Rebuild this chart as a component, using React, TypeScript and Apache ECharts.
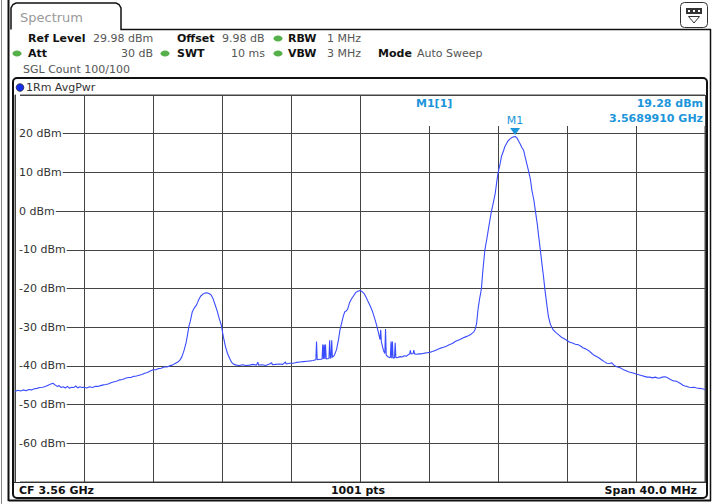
import React, { useEffect, useRef } from "react";
import * as echarts from "echarts";

// ---- Sweep settings ----
const SWEEP_POINTS = 1001;
const CENTER_GHZ = 3.56;
const SPAN_MHZ = 40;
const LEVEL_MIN = -70;
const LEVEL_MAX = 30;
const LEVEL_STEP = 10;

// ---- Trace 1 (AvgPwr): sweep point index and level in dBm ----
const traceIndex = [
  0, 4, 8, 12, 16, 20, 24, 28, 32, 36, 40, 44, 48, 52, 55, 58, 61, 64, 67, 70, 73, 76, 79, 82, 85, 88, 91, 94, 97, 100,
  104, 108, 112, 116, 120, 124, 128, 132, 136, 140, 144, 148, 152, 156, 160, 164, 168, 172, 176, 180, 184, 188, 192, 196, 200,
  204, 208, 212, 216, 220, 224, 228, 232, 236, 239, 242, 245, 248, 250, 252, 254, 257, 260, 263, 266, 269, 272, 275, 278, 281,
  284, 287, 290, 293, 296, 299, 302, 305, 308, 311, 314, 317, 321, 325, 330, 335, 340, 345, 350, 352, 353, 358, 363, 368, 372,
  373, 378, 383, 388, 392, 393, 398, 403, 408, 413, 418, 423, 428, 432, 436, 437, 438, 442, 445, 446, 447, 448, 449, 450, 451,
  455, 456, 457, 458, 459, 460, 463, 466, 469, 471, 474, 476, 478, 480, 482, 485, 488, 491, 494, 497, 500, 503, 506, 509, 512,
  515, 518, 521, 524, 527, 529, 530, 531, 534, 536, 537, 538, 541, 544, 545, 546, 547, 548, 550, 551, 552, 555, 558, 561, 564,
  567, 570, 572, 573, 574, 577, 578, 579, 582, 585, 588, 591, 594, 597, 601, 605, 609, 613, 617, 621, 625, 630, 634, 638, 642,
  645, 649, 653, 657, 661, 665, 667, 669, 671, 673, 676, 678, 681, 684, 686, 688, 690, 693, 696, 698, 700, 703, 705, 708, 710,
  714, 717, 720, 723, 725, 727, 729, 732, 735, 737, 740, 744, 747, 749, 752, 754, 757, 759, 761, 763, 766, 768, 771, 773, 776,
  780, 784, 788, 792, 796, 799, 804, 808, 812, 816, 819, 823, 827, 831, 835, 838, 842, 846, 850, 854, 858, 862, 865, 868, 872,
  877, 881, 885, 889, 893, 897, 900, 904, 908, 912, 916, 920, 924, 928, 932, 935, 938, 941, 944, 947, 950, 953, 956, 959, 962,
  965, 968, 971, 974, 977, 980, 984, 988, 992, 996, 1000,
];
const traceDbm = [
  -46.6, -46.3, -46.5, -46.2, -46.4, -46.1, -46.2, -45.9, -45.8, -45.6, -45.5, -45.3, -45.0, -44.7, -44.5, -44.9, -45.3, -45.1, -45.6, -45.4, -45.7, -45.3, -45.8, -45.5, -45.6, -45.2, -45.7, -45.4, -45.6, -45.5,
  -45.7, -45.4, -45.6, -45.3, -45.3, -45.1, -44.9, -44.8, -44.6, -44.3, -44.1, -43.9, -43.6, -43.5, -43.2, -43.0, -43.0, -42.7, -42.6, -42.4, -42.2, -41.9, -41.7, -41.3, -41.0,
  -41.0, -40.7, -40.6, -40.3, -40.3, -40.0, -39.8, -39.4, -39.0, -38.5, -37.6, -36.0, -34.0, -32.0, -29.8, -28.5, -26.0, -25.0, -24.3, -23.0, -22.0, -21.5, -21.2, -21.1, -21.3,
  -21.6, -22.6, -24.2, -25.8, -27.8, -29.5, -32.5, -35.0, -36.8, -38.0, -39.1, -39.6, -39.8, -39.9, -39.7, -39.9, -39.8, -39.6, -39.8, -39.0, -39.8, -39.7, -39.9, -39.6, -39.2,
  -39.7, -39.6, -39.5, -39.6, -39.0, -39.5, -39.3, -39.3, -39.1, -39.0, -38.9, -38.8, -38.7, -38.6, -38.4, -33.7, -38.4, -38.3, -38.3, -34.5, -38.2, -34.5, -38.2, -34.5, -38.2,
  -38.1, -33.4, -38.0, -37.9, -33.4, -37.8, -37.2, -35.8, -33.0, -30.7, -28.5, -27.0, -26.0, -25.8, -25.4, -23.6, -22.6, -21.8, -21.0, -20.7, -20.5, -20.8, -21.3, -22.3, -23.5,
  -24.6, -25.9, -27.6, -29.4, -31.6, -33.2, -30.7, -33.8, -36.0, -36.8, -30.5, -37.2, -37.7, -37.9, -33.7, -38.0, -33.7, -38.0, -37.9, -34.0, -37.9, -37.8, -37.6, -37.7, -37.4,
  -37.5, -37.1, -36.9, -36.0, -36.9, -36.8, -35.9, -36.9, -37.0, -36.9, -36.9, -36.8, -36.7, -36.6, -36.5, -36.3, -36.0, -35.7, -35.4, -35.2, -34.9, -34.5, -34.2, -33.7, -33.4,
  -33.2, -32.8, -32.5, -32.2, -31.8, -31.2, -30.5, -29.0, -25.5, -23.0, -20.0, -15.5, -10.0, -7.0, -4.8, -2.6, -0.5, 2.0, 4.6, 7.3, 9.8, 12.2, 14.1, 15.6, 16.7,
  18.0, 18.6, 19.0, 19.2, 19.28, 19.0, 18.4, 17.4, 16.3, 15.8, 13.5, 10.6, 8.2, 5.5, 2.8, 0.3, -3.5, -6.6, -9.5, -12.6, -17.0, -20.3, -24.5, -27.2, -29.3,
  -30.7, -31.4, -32.0, -32.6, -33.0, -33.3, -33.9, -34.1, -34.4, -34.5, -34.8, -35.3, -35.6, -36.0, -36.6, -37.1, -37.5, -37.9, -38.4, -38.9, -39.3, -39.4, -39.2, -39.8, -40.2,
  -40.5, -40.9, -41.2, -41.5, -41.7, -41.9, -42.1, -42.3, -42.5, -42.7, -42.9, -42.9, -43.1, -42.9, -43.2, -43.1, -42.9, -42.8, -42.9, -43.2, -43.5, -43.8, -43.9, -44.0, -44.3,
  -44.6, -45.0, -45.2, -45.3, -45.5, -45.6, -45.5, -45.7, -45.8, -45.9, -46.1,
];

// ---- Marker M1 ----
const markerName = "M1";
const markerFreqGHz = 3.568991;
const markerLevelDbm = 19.28;

// ---- Header settings ----
const refLevel = "29.98 dBm";
const offset = "9.98 dB";
const rbw = "1 MHz";
const att = "30 dB";
const swt = "10 ms";
const vbw = "3 MHz";
const mode = "Auto Sweep";
const sglCount = "100/100";
const traceLabel = "1Rm AvgPwr";

const FONT = '"DejaVu Sans", Verdana, sans-serif';
const BLUE_MK = "#1c95da";

function txt(x: number, y: number, text: string, o: any = {}) {
  return {
    type: "text",
    x,
    y,
    z: 20,
    silent: true,
    style: {
      text,
      fill: o.fill || "#333",
      font: `${o.bold ? "bold " : ""}${o.size || 11}px ${FONT}`,
      align: o.align || "left",
      verticalAlign: "middle",
    },
  };
}

export default function App() {
  const ref = useRef<HTMLDivElement>(null);
  useEffect(() => {
    if (!ref.current) return;
    const chart = echarts.init(ref.current, undefined, { renderer: "svg" });
    const startGHz = CENTER_GHZ - SPAN_MHZ / 2000;
    const markerIdx = ((markerFreqGHz - startGHz) / (SPAN_MHZ / 1000)) * (SWEEP_POINTS - 1);
    const data = traceIndex.map((x, i) => [x, traceDbm[i]]);

    const graphics: any[] = [
      // outer window lines
      { type: "line", z: 15, shape: { x1: 1.5, y1: 0, x2: 1.5, y2: 504 }, style: { stroke: "#888", lineWidth: 1 } },
      { type: "line", z: 15, shape: { x1: 8.5, y1: 0, x2: 8.5, y2: 501 }, style: { stroke: "#111", lineWidth: 2 } },
      { type: "line", z: 15, shape: { x1: 8.5, y1: 500.5, x2: 711, y2: 500.5 }, style: { stroke: "#111", lineWidth: 2 } },
      { type: "line", z: 15, shape: { x1: 710.5, y1: 29, x2: 710.5, y2: 501 }, style: { stroke: "#111", lineWidth: 1.5 } },
      // tab
      {
        type: "polyline", z: 15,
        shape: { points: [[11, 29.5], [11, 8], [13, 4.5], [16, 3], [116, 3], [119, 4.5], [121, 8], [121, 29.5], [711, 29.5]] },
        style: { stroke: "#111", lineWidth: 1.5, fill: "none" },
      },
      txt(20, 17, "Spectrum", { size: 13, fill: "#999" }),
      // top-right icon
      { type: "rect", z: 15, shape: { x: 680.5, y: 2.5, width: 27, height: 25, r: 4 }, style: { fill: "#fff", stroke: "#333", lineWidth: 1 } },
      { type: "rect", z: 16, shape: { x: 686, y: 8, width: 16, height: 6 }, style: { fill: "#333" } },
      { type: "rect", z: 17, shape: { x: 688, y: 10, width: 2, height: 2 }, style: { fill: "#fff" } },
      { type: "rect", z: 17, shape: { x: 693, y: 10, width: 2, height: 2 }, style: { fill: "#fff" } },
      { type: "rect", z: 17, shape: { x: 698, y: 10, width: 2, height: 2 }, style: { fill: "#fff" } },
      { type: "polygon", z: 16, shape: { points: [[688.5, 16.5], [699.5, 16.5], [694, 23]] }, style: { fill: "#fff", stroke: "#333", lineWidth: 1 } },
      // header info
      txt(28, 38, "Ref Level", { bold: true, fill: "#111" }),
      txt(93, 38, refLevel, { fill: "#555" }),
      txt(177, 38, "Offset", { bold: true, fill: "#111" }),
      txt(222, 38, offset, { fill: "#555" }),
      { type: "ellipse", z: 20, shape: { cx: 278, cy: 38.5, rx: 4.5, ry: 3 }, style: { fill: "#55b04a" } },
      txt(288, 38, "RBW", { bold: true, fill: "#111" }),
      txt(327, 38, rbw, { fill: "#555" }),
      { type: "ellipse", z: 20, shape: { cx: 17, cy: 53.5, rx: 4.5, ry: 3 }, style: { fill: "#55b04a" } },
      txt(28, 53, "Att", { bold: true, fill: "#111" }),
      txt(153, 53, att, { fill: "#555", align: "right" }),
      { type: "ellipse", z: 20, shape: { cx: 165, cy: 53.5, rx: 4.5, ry: 3 }, style: { fill: "#55b04a" } },
      txt(177, 53, "SWT", { bold: true, fill: "#111" }),
      txt(265, 53, swt, { fill: "#555", align: "right" }),
      { type: "ellipse", z: 20, shape: { cx: 278, cy: 53.5, rx: 4.5, ry: 3 }, style: { fill: "#55b04a" } },
      txt(288, 53, "VBW", { bold: true, fill: "#111" }),
      txt(327, 53, vbw, { fill: "#555" }),
      txt(378, 53, "Mode", { bold: true, fill: "#111" }),
      txt(417, 53, mode, { fill: "#555" }),
      txt(23, 69, "SGL Count " + sglCount, { fill: "#555" }),
      // trace window frame
      { type: "rect", z: 15, shape: { x: 13, y: 78, width: 694, height: 420, r: 4 }, style: { fill: "none", stroke: "#111", lineWidth: 2 } },
      { type: "circle", z: 20, shape: { cx: 20, cy: 87.5, r: 3.8 }, style: { fill: "#1530e8", stroke: "#223", lineWidth: 0.8 } },
      txt(26, 87, traceLabel, { fill: "#333" }),
      // bottom bar
      { type: "line", z: 15, shape: { x1: 14, y1: 482.5, x2: 706, y2: 482.5 }, style: { stroke: "#333", lineWidth: 1 } },
      txt(19, 490.5, "CF " + CENTER_GHZ.toFixed(2) + " GHz", { bold: true, fill: "#111" }),
      txt(358, 490.5, SWEEP_POINTS + " pts", { bold: true, fill: "#111", align: "center" }),
      txt(697, 490.5, "Span " + SPAN_MHZ.toFixed(1) + " MHz", { bold: true, fill: "#111", align: "right" }),
      // marker info box
      { type: "rect", z: 12, shape: { x: 405, y: 96, width: 300, height: 30 }, style: { fill: "#fff" } },
      txt(416, 103, markerName + "[1]", { bold: true, fill: BLUE_MK }),
      txt(703, 103, markerLevelDbm.toFixed(2) + " dBm", { bold: true, fill: BLUE_MK, align: "right" }),
      txt(703, 118, markerFreqGHz.toFixed(7) + " GHz", { bold: true, fill: BLUE_MK, align: "right" }),
    ];

    chart.setOption({
      animation: false,
      backgroundColor: "#fff",
      grid: { left: 15, top: 95, width: 690, height: 387, show: true, borderColor: "#444", borderWidth: 1 },
      xAxis: {
        type: "value",
        min: 0,
        max: SWEEP_POINTS - 1,
        interval: 100,
        axisLine: { show: false },
        axisTick: { show: false },
        axisLabel: { show: false },
        splitLine: { show: true, lineStyle: { color: "#444", width: 1 } },
      },
      yAxis: {
        type: "value",
        min: LEVEL_MIN,
        max: LEVEL_MAX,
        interval: LEVEL_STEP,
        axisLine: { show: false },
        axisTick: { show: false },
        splitLine: { show: true, lineStyle: { color: "#444", width: 1 } },
        axisLabel: {
          inside: true,
          margin: 1,
          color: "#333",
          fontSize: 11,
          fontFamily: FONT,
          backgroundColor: "#fff",
          padding: [1, 1, 1, 3],
          formatter: (v: number) => (v === LEVEL_MAX || v === LEVEL_MIN ? "" : `${v} dBm`),
        },
      },
      series: [
        {
          type: "line",
          data,
          showSymbol: false,
          symbol: "none",
          lineStyle: { color: "#3a4cff", width: 1.1 },
          z: 3,
          markPoint: {
            z: 30,
            symbol: "triangle",
            symbolSize: [10, 7],
            symbolRotate: 180,
            symbolOffset: [0, -5],
            itemStyle: { color: BLUE_MK },
            label: { show: true, position: "top", distance: 2, color: BLUE_MK, fontSize: 11, fontFamily: FONT, formatter: markerName },
            data: [{ coord: [markerIdx, markerLevelDbm] }],
          },
        },
      ],
      graphic: { elements: graphics },
    });
    return () => chart.dispose();
  }, []);
  return <div ref={ref} style={{ position: "absolute", left: 0, top: 0, width: 715, height: 504 }} />;
}
